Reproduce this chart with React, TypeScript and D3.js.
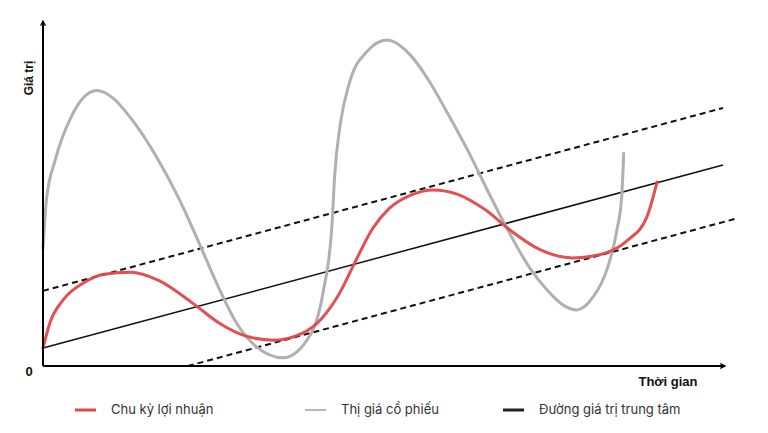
import * as d3 from 'd3';

// time (0..100) / value (0..100)
const profitT = [0, 1.0, 3, 6, 9, 12.8, 17, 22, 26, 30, 34, 38, 41, 43.5, 46, 48.5, 51, 54, 57.4, 61, 65, 69, 73, 77.9, 82, 86, 88.8, 90.3];
const profitV = [5.3, 12.6, 19.5, 24.5, 27, 27.6, 25.2, 18.5, 12.5, 8.7, 7.6, 9.5, 14, 21, 31, 40.5, 46.5, 50.2, 51.8, 50.5, 46, 39.5, 34.3, 31.8, 32.8, 37, 43.8, 54.1];

const priceT = [0, 0.5, 1.8, 4.2, 5.9, 7.9, 10.3, 12.8, 16.7, 20.1, 23.1, 25.5, 28.5, 31.4, 35.3, 39.3, 41.2, 42.5, 42.9, 43.7, 45.1, 47.6, 50.6, 54.0, 56.5, 59.4, 62.8, 65.7, 68.2, 71.6, 74.1, 76.5, 78.5, 80.9, 82.9, 84.4, 85.1, 85.4];
const priceV = [34.7, 48.8, 60.6, 73.5, 78.8, 81.0, 78.8, 73.2, 61.5, 48.8, 35.5, 24.5, 12.5, 5.6, 2.4, 9.1, 21.8, 41.5, 56.2, 70.9, 83.5, 92.4, 95.9, 91.5, 84.7, 74.7, 62.1, 50.3, 40.6, 28.8, 22.4, 17.9, 16.5, 20.3, 28.2, 40.0, 49.7, 62.6];

const centerT = [0, 100];
const centerV = [5.3, 59.1];
const upperT = [0, 100];
const upperV = [22.1, 75.9];
const lowerT = [21.3, 102.2];
const lowerV = [0, 43.5];

const legendLabels = ['Chu kỳ lợi nhuận', 'Thị giá cổ phiếu', 'Đường giá trị trung tâm'];
const legendColors = ['#e0474c', '#b8b8b8', '#2a1c1c'];

type P = { t: number; v: number };
const zip = (ts: number[], vs: number[]): P[] => ts.map((t, i) => ({ t, v: vs[i] }));

export default function App() {
  const W = 768, H = 433;
  const x = d3.scaleLinear().domain([0, 100]).range([43, 723]);
  const y = d3.scaleLinear().domain([0, 100]).range([366, 26]);

  const smooth = d3.line<P>().x(d => x(d.t)).y(d => y(d.v)).curve(d3.curveMonotoneX);
  const straight = d3.line<P>().x(d => x(d.t)).y(d => y(d.v));

  const legendX = [75, 305, 503];

  return (
    <svg width={W} height={H} style={{ position: 'absolute', left: 0, top: 0, background: '#fff' }}>
      <defs>
        <marker id="arrow" viewBox="0 0 10 10" refX="9" refY="5" markerWidth="6" markerHeight="6" orient="auto-start-reverse" markerUnits="userSpaceOnUse">
          <path d="M 1 1 L 9 5 L 1 9" fill="none" stroke="#000" strokeWidth="2" />
        </marker>
      </defs>

      {/* band lines */}
      <path d={straight(zip(upperT, upperV)) ?? ''} fill="none" stroke="#111" strokeWidth={2} strokeDasharray="6,4" />
      <path d={straight(zip(lowerT, lowerV)) ?? ''} fill="none" stroke="#111" strokeWidth={2} strokeDasharray="6,4" />
      <path d={straight(zip(centerT, centerV)) ?? ''} fill="none" stroke="#111" strokeWidth={1.5} />

      {/* price */}
      <path d={smooth(zip(priceT, priceV)) ?? ''} fill="none" stroke="#b0b0b0" strokeWidth={3} strokeLinecap="round" strokeLinejoin="round" />
      {/* profit */}
      <path d={smooth(zip(profitT, profitV)) ?? ''} fill="none" stroke="#e0474c" strokeWidth={3} strokeLinecap="round" strokeLinejoin="round" opacity={0.95} />

      {/* axes */}
      <line x1={43} y1={366} x2={43} y2={21} stroke="#000" strokeWidth={2} markerEnd="url(#arrow)" />
      <line x1={43} y1={366} x2={725} y2={366} stroke="#000" strokeWidth={2} markerEnd="url(#arrow)" />

      <text x={30} y={78} transform="rotate(-90 30 78)" textAnchor="middle" dominantBaseline="middle"
        fontFamily="Liberation Sans, Arial, sans-serif" fontWeight="bold" fontSize={12} fill="#111">Giá trị</text>
      <text x={29} y={373} textAnchor="middle" dominantBaseline="middle"
        fontFamily="Liberation Sans, Arial, sans-serif" fontWeight="bold" fontSize={13} fill="#111">0</text>
      <text x={668} y={383} textAnchor="middle" dominantBaseline="middle"
        fontFamily="Liberation Sans, Arial, sans-serif" fontWeight="bold" fontSize={13} fill="#111">Thời gian</text>

      {/* legend */}
      {legendLabels.map((label, i) => (
        <g key={label} transform={`translate(${legendX[i]}, 410)`}>
          <line x1={0} x2={21} y1={0} y2={0} stroke={legendColors[i]} strokeWidth={i === 1 ? 2 : 3} />
          <text x={36} y={0} dominantBaseline="middle" fontFamily="Inter, Noto Sans, sans-serif" fontSize={13} fill="#333">{label}</text>
        </g>
      ))}
    </svg>
  );
}
